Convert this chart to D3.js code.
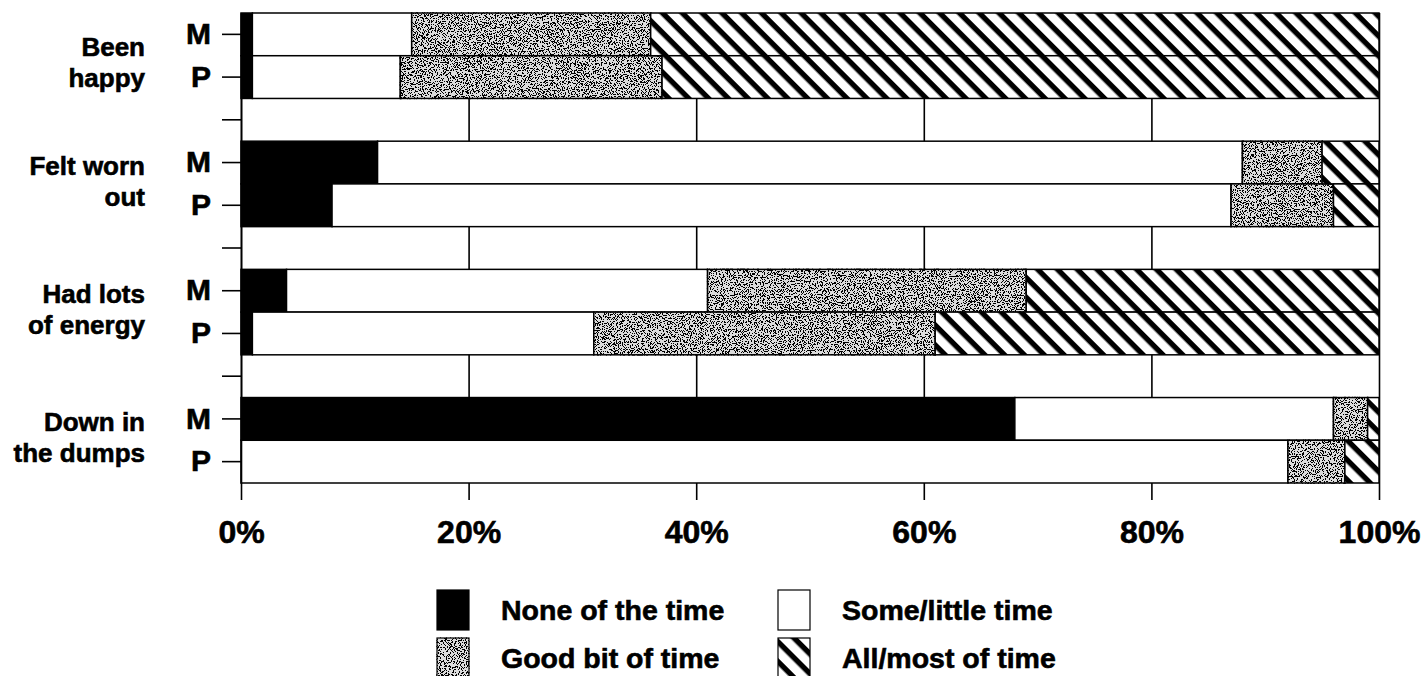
<!doctype html>
<html lang="en">
<head>
<meta charset="utf-8">
<title>Feelings over the past month, M and P</title>
<style>
  body { margin: 0; background: #fff; }
  svg { display: block; font-family: "Liberation Sans", Arial, sans-serif; font-weight: bold; }
  svg text { stroke: #000; stroke-width: 0.6px; }
</style>
</head>
<body>
<svg id="chart" width="1423" height="676"></svg>

<script src="https://cdn.jsdelivr.net/npm/d3@7"></script>
<script>

// data (percent of respondents)
const groups = ["Been happy", "Felt worn out", "Had lots of energy", "Down in the dumps"];
const groupLines = [["Been", "happy"], ["Felt worn", "out"], ["Had lots", "of energy"], ["Down in", "the dumps"]];
const respondents = ["M", "P"];
const categories = ["None of the time", "Some/little time", "Good bit of time", "All/most of time"];

// one value per bar, in order: happy M, happy P, worn M, worn P, energy M, energy P, dumps M, dumps P
const noneOfTime   = [1, 1, 12, 8, 4, 1, 68, 0];
const someLittle   = [14, 13, 76, 79, 37, 30, 28, 92];
const goodBit      = [21, 23, 7, 9, 28, 30, 3, 5];
const allMost      = [64, 63, 5, 4, 31, 39, 1, 3];

const xTicks = [0, 20, 40, 60, 80, 100];

const width = 1423, height = 676;
const plotLeft = 241, plotRight = 1379, plotTop = 13, plotBottom = 483;

const svg = d3.select('#chart');

// patterns for the two textured categories
const defs = svg.append('defs');

const hatch = defs.append('pattern')
    .attr('id', 'hatch')
    .attr('patternUnits', 'userSpaceOnUse')
    .attr('width', 14)
    .attr('height', 14)
    .attr('patternTransform', 'rotate(45)');
hatch.append('rect').attr('width', 14).attr('height', 14).attr('fill', '#fff');
hatch.append('rect').attr('width', 14).attr('height', 5.4).attr('fill', '#000');

const stipple = defs.append('filter')
    .attr('id', 'stipple')
    .attr('color-interpolation-filters', 'sRGB');
stipple.append('feTurbulence')
    .attr('type', 'fractalNoise')
    .attr('baseFrequency', 0.85)
    .attr('numOctaves', 2)
    .attr('seed', 7)
    .attr('result', 'noise');
stipple.append('feColorMatrix')
    .attr('in', 'noise')
    .attr('type', 'matrix')
    .attr('values', '0 0 0 0 0  0 0 0 0 0  0 0 0 0 0  1 0 0 0 0')
    .attr('result', 'alpha');
stipple.append('feComponentTransfer')
    .attr('in', 'alpha')
    .attr('result', 'dots')
    .append('feFuncA')
    .attr('type', 'discrete')
    .attr('tableValues', '0 0 0 0 0 0 0 0 0 0 0 1 1 1 1 1 1 1 1 1');
stipple.append('feComposite')
    .attr('in', 'dots')
    .attr('in2', 'SourceGraphic')
    .attr('operator', 'in')
    .attr('result', 'clipped');
const merge = stipple.append('feMerge');
merge.append('feMergeNode').attr('in', 'SourceGraphic');
merge.append('feMergeNode').attr('in', 'clipped');

const fills = ['#000', '#fff', '#dcdcdc', 'url(#hatch)'];
const filters = [null, null, 'url(#stipple)', null];

// rows: M, P, then an empty spacer row between groups
const rows = [];
groups.forEach((g, i) => {
    respondents.forEach(r => rows.push({ key: i + r, label: r }));
    if (i < groups.length - 1) rows.push({ key: 's' + i, label: '' });
});

const barKeys = groups.flatMap((g, i) => respondents.map(r => i + r));
const table = barKeys.map((k, j) => ({
    key: k,
    [categories[0]]: noneOfTime[j],
    [categories[1]]: someLittle[j],
    [categories[2]]: goodBit[j],
    [categories[3]]: allMost[j]
}));
const series = d3.stack().keys(categories)(table);

const x = d3.scaleLinear().domain([0, 100]).range([plotLeft, plotRight]);
const y = d3.scaleBand().domain(rows.map(d => d.key)).range([plotTop, plotBottom]);

// x axis: ticks below, lines carried up the whole plot as grid
const xAxis = svg.append('g')
    .attr('transform', 'translate(0,' + plotBottom + ')')
    .call(d3.axisBottom(x).tickValues(xTicks).tickSize(17).tickSizeOuter(0).tickFormat(d => d + '%'));
xAxis.select('.domain').remove();
xAxis.selectAll('.tick line')
    .attr('y1', plotTop - plotBottom)
    .attr('stroke', '#000')
    .attr('stroke-width', 1.6);
xAxis.selectAll('.tick text')
    .attr('y', 60)
    .attr('dy', null)
    .attr('fill', '#000')
    .style('font-size', '32px')
    .style('font-family', '"Liberation Sans", Arial, sans-serif')
    .style('font-weight', 'bold');

// stacked bars
svg.append('g')
  .selectAll('g')
  .data(series)
  .join('g')
    .attr('fill', (d, i) => fills[i])
    .attr('filter', (d, i) => filters[i])
  .selectAll('rect')
  .data(d => d.filter(s => s[1] - s[0] > 0))
  .join('rect')
    .attr('x', d => x(d[0]))
    .attr('y', d => y(d.data.key))
    .attr('width', d => x(d[1]) - x(d[0]))
    .attr('height', y.bandwidth())
    .attr('stroke', '#000')
    .attr('stroke-width', 1.5);

// y axis with M / P labels
const yAxis = svg.append('g')
    .attr('transform', 'translate(' + plotLeft + ',0)')
    .call(d3.axisLeft(y).tickSize(19).tickSizeOuter(0).tickPadding(11)
        .tickFormat(k => rows.find(r => r.key === k).label));
yAxis.select('.domain').attr('stroke', '#000').attr('stroke-width', 1.6);
yAxis.selectAll('.tick line').attr('stroke', '#000').attr('stroke-width', 1.6);
yAxis.selectAll('.tick text')
    .attr('fill', '#000')
    .attr('stroke-width', 1)
    .style('font-size', '30px')
    .style('font-family', '"Liberation Sans", Arial, sans-serif')
    .style('font-weight', 'bold');

// group names, two lines each
const labels = svg.append('g')
    .attr('text-anchor', 'end')
    .style('font-size', '26px');
groupLines.forEach((lines, i) => {
    const top = y(i + 'M') + y.bandwidth() / 2 + 3 + (i === 0 ? 9 : 0);
    lines.forEach((line, j) => {
        labels.append('text')
            .attr('x', 145)
            .attr('y', top + j * 31)
            .attr('dy', '0.36em')
            .text(line);
    });
});

// legend
const legend = svg.append('g').style('font-size', '28.5px');
categories.forEach((c, i) => {
    const col = i % 2, row = Math.floor(i / 2);
    const lg = legend.append('g')
        .attr('transform', 'translate(' + (437 + col * 341) + ',' + (590 + row * 48) + ')');
    lg.append('rect')
        .attr('width', 32)
        .attr('height', 40)
        .attr('fill', fills[i])
        .attr('filter', filters[i])
        .attr('stroke', '#000')
        .attr('stroke-width', 1.2);
    lg.append('text')
        .attr('x', 64)
        .attr('y', 30)
        .text(c);
});

</script>
</body>
</html>
